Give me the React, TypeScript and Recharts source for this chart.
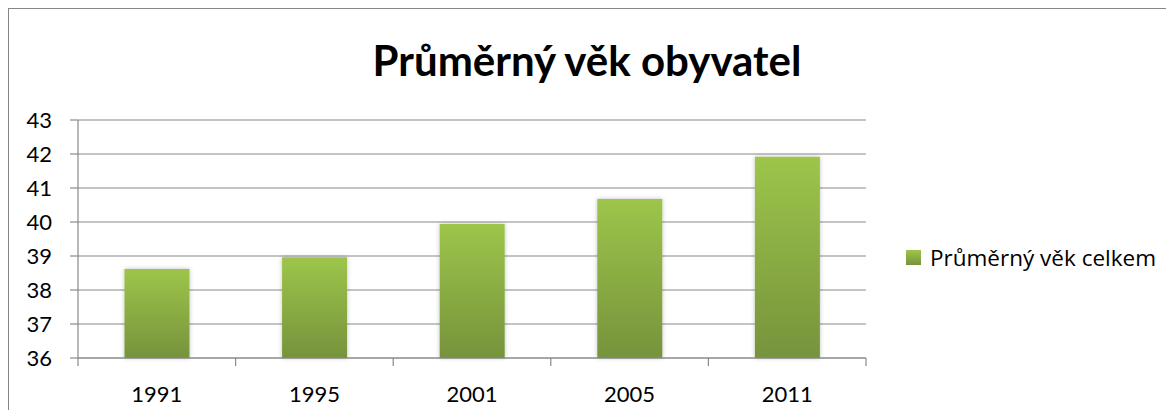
import React from "react";
import { BarChart, Bar, XAxis, YAxis, CartesianGrid } from "recharts";

const years = ["1991", "1995", "2001", "2005", "2011"];
const avgAge = [38.62, 38.96, 39.94, 40.68, 41.92];
const yTicks = [36, 37, 38, 39, 40, 41, 42, 43];
const seriesName = "Průměrný věk celkem";
const title = "Průměrný věk obyvatel";

const data = years.map((y, i) => ({ year: y, value: avgAge[i] }));

const font = "Lato, 'Open Sans', sans-serif";
const grey = "#8a8a8a";

// category label plus tick marks on the band edges
function YearTick(props: any) {
  const { x, y, payload, index, visibleTicksCount } = props;
  const half = payload.offset || 0;
  const last = index === visibleTicksCount - 1;
  return (
    <g>
      <line x1={x - half} x2={x - half} y1={y} y2={y + 8} stroke={grey} strokeWidth={1.2} />
      {last && <line x1={x + half} x2={x + half} y1={y} y2={y + 8} stroke={grey} strokeWidth={1.2} />}
      <text x={x} y={y + 28} dy="0.71em" textAnchor="middle" fill="#000" fontSize={22} fontFamily={font}>
        {payload.value}
      </text>
    </g>
  );
}

export default function App() {
  return (
    <div style={{ position: "relative", width: 1174, height: 418, margin: -8, overflow: "hidden", background: "#fff" }}>
      <div
        style={{
          position: "absolute",
          left: 2,
          top: -15,
          fontFamily: "'Liberation Serif', serif",
          fontWeight: 700,
          fontSize: 20,
        }}
      >
        Graf č. 6
      </div>
      <div
        style={{
          position: "absolute",
          left: 8,
          top: 8,
          width: 1163,
          height: 420,
          border: "1px solid #868686",
          boxSizing: "border-box",
        }}
      />
      <div
        style={{
          position: "absolute",
          left: 0,
          width: 1174,
          top: 35,
          textAlign: "center",
          fontFamily: font,
          fontWeight: 700,
          fontSize: 42,
          lineHeight: "50px",
          color: "#000",
        }}
      >
        {title}
      </div>
      <div style={{ position: "absolute", left: 0, top: 0 }}>
        <BarChart
          width={1174}
          height={418}
          data={data}
          margin={{ top: 120, right: 308, left: 8, bottom: 30 }}
          barCategoryGap="29.5%"
        >
          <defs>
            <linearGradient id="barGrad" x1="0" y1="0" x2="0" y2="1">
              <stop offset="0%" stopColor="#9dc54a" />
              <stop offset="100%" stopColor="#76933c" />
            </linearGradient>
            <filter id="barShadow" x="-20%" y="-10%" width="140%" height="120%">
              <feDropShadow dx="0" dy="0" stdDeviation="2" floodColor="#000" floodOpacity="0.25" />
            </filter>
          </defs>
          <CartesianGrid vertical={false} stroke={grey} strokeWidth={1.2} />
          <XAxis
            dataKey="year"
            interval={0}
            tickLine={false}
            tickSize={0}
            tickMargin={0}
            axisLine={{ stroke: grey, strokeWidth: 1.2 }}
            tick={<YearTick />}
            height={30}
          />
          <YAxis
            domain={[36, 43]}
            ticks={yTicks}
            interval={0}
            width={70}
            tickSize={8}
            tickMargin={18}
            axisLine={{ stroke: grey, strokeWidth: 1.2 }}
            tickLine={{ stroke: grey, strokeWidth: 1.2 }}
            tick={{ fill: "#000", fontSize: 22, fontFamily: font }}
          />
          <Bar
            dataKey="value"
            name={seriesName}
            fill="url(#barGrad)"
            filter="url(#barShadow)"
            isAnimationActive={false}
          />
        </BarChart>
      </div>
      <div
        style={{
          position: "absolute",
          left: 906,
          top: 242,
          display: "flex",
          alignItems: "center",
          fontFamily: "'Open Sans', sans-serif",
          fontSize: 22.5,
          color: "#000",
        }}
      >
        <span
          style={{
            display: "inline-block",
            width: 15,
            height: 15,
            background: "linear-gradient(#9dc54a, #76933c)",
            marginRight: 9,
          }}
        />
        {seriesName}
      </div>
    </div>
  );
}
